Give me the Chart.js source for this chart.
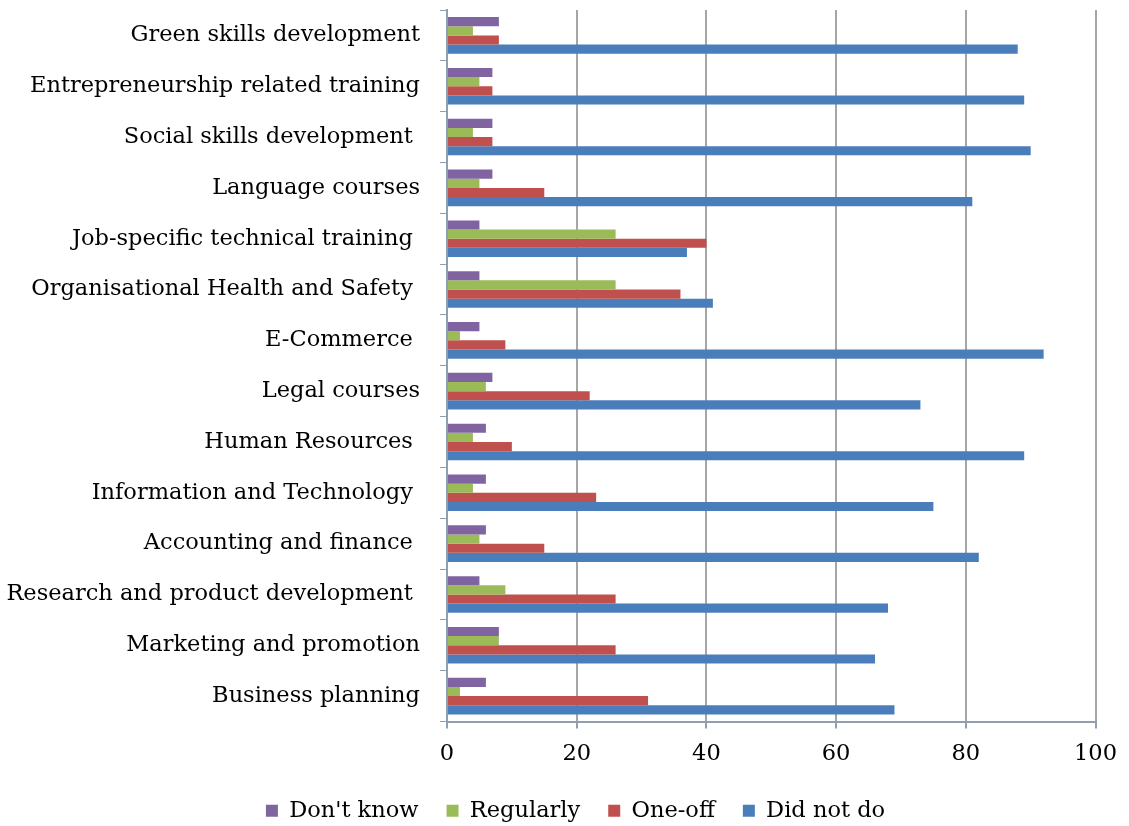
<!DOCTYPE html>
<html><head><meta charset="utf-8">
<script src="https://cdn.jsdelivr.net/npm/chart.js@4"></script>
<style>html,body{margin:0;padding:0;background:#fff}#wrap{width:1129px;height:826px}</style>
</head><body><div id="wrap"><canvas id="c" width="1129" height="826"></canvas></div>
<script>
const categories = ["Green skills development","Entrepreneurship related training","Social skills development ","Language courses","Job-specific technical training ","Organisational Health and Safety ","E-Commerce ","Legal courses","Human Resources ","Information and Technology ","Accounting and finance ","Research and product development ","Marketing and promotion","Business planning"];
const dontKnow = [8,7,7,7,5,5,5,7,6,6,6,5,8,6];
const regularly = [4,5,4,5,26,26,2,6,4,4,5,9,8,2];
const oneOff = [8,7,7,15,40,36,9,22,10,23,15,26,26,31];
const didNotDo = [88,89,90,81,37,41,92,73,89,75,82,68,66,69];
const xTicks = [0,20,40,60,80,100];

const FONT = "'DejaVu Serif', serif";
const legendShift = {
  id: 'legendShift',
  afterLayout(chart) {
    if (chart.legend) { chart.legend.left += 27; chart.legend.right += 27; }
  }
};
new Chart(document.getElementById('c'), {
  type: 'bar',
  data: {
    labels: categories,
    datasets: [
      {label:"Don't know", data: dontKnow, backgroundColor:'#8064A2'},
      {label:"Regularly", data: regularly, backgroundColor:'#9BBB59'},
      {label:"One-off", data: oneOff, backgroundColor:'#C0504D'},
      {label:"Did not do", data: didNotDo, backgroundColor:'#4A7EBB'}
    ]
  },
  plugins: [legendShift],
  options: {
    indexAxis: 'y',
    responsive: false,
    animation: false,
    devicePixelRatio: 1,
    categoryPercentage: 0.72,
    barPercentage: 1.0,
    layout: {padding: {left: 0, right: 32, top: 10, bottom: -6}},
    plugins: {
      legend: {
        position: 'bottom',
        labels: {font:{family:FONT,size:22.5,lineHeight:1}, color:'#000', boxWidth:12, boxHeight:12, padding:28}
      },
      tooltip: {enabled:false}
    },
    scales: {
      x: {
        min: 0, max: 100,
        afterBuildTicks: (s) => { s.ticks = xTicks.map(v => ({value:v})); },
        afterFit: (s) => { s.height = 50; },
        ticks: {font:{family:FONT,size:22.5}, color:'#000', padding:12},
        grid: {color:'#A6A6A6', lineWidth:2, drawTicks:true, tickLength:7, tickColor:'#8EA0B0'},
        border: {color:'#8EA0B0', width:2}
      },
      y: {
        afterFit: (s) => { s.width = 447; s.paddingTop = 0; s.paddingBottom = 0; },
        ticks: {font:{family:FONT,size:22.5}, color:'#000', padding:20},
        grid: {drawOnChartArea:false, drawTicks:true, tickLength:7, tickColor:'#8EA0B0', offset:true},
        border: {color:'#8EA0B0', width:2}
      }
    }
  }
});
</script></body></html>
